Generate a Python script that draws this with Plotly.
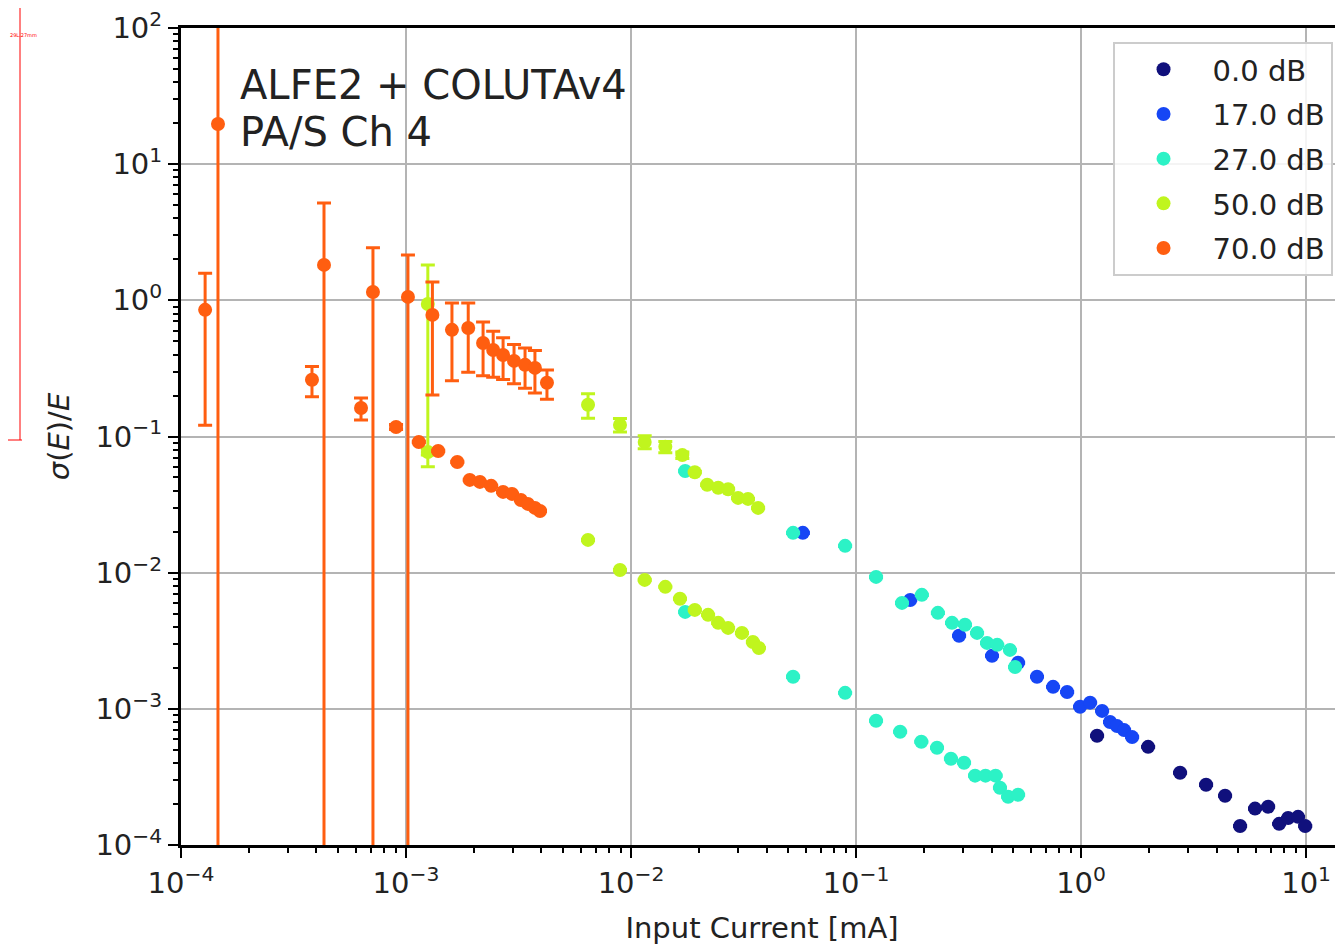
import plotly.graph_objects as go

# ---------------- data ----------------
gain_labels = ["0.0 dB", "17.0 dB", "27.0 dB", "50.0 dB", "70.0 dB"]
colors = ["#10107c", "#1646f5", "#2cf2c6", "#c0f51e", "#ff5e10"]

# 0 dB
x_0db = [1.178, 1.986, 2.754, 3.594, 4.365, 5.09, 5.93, 6.78, 7.59, 8.32, 9.21, 9.91]
y_0db = [6.34e-4, 5.26e-4, 3.39e-4, 2.77e-4, 2.30e-4, 1.38e-4, 1.85e-4, 1.91e-4,
         1.43e-4, 1.58e-4, 1.61e-4, 1.38e-4]
e_0db = [5e-6, 4e-6, 3e-6, 3e-6, 2e-6, 1e-6, 2e-6, 2e-6, 1e-6, 1e-6, 1e-6, 1e-6]

# 17 dB
x_17db = [0.058, 0.174, 0.287, 0.402, 0.525, 0.637, 0.751, 0.867, 0.99, 1.097,
          1.24, 1.345, 1.445, 1.553, 1.686]
y_17db = [0.0196, 0.0063, 0.00344, 0.00245, 0.00218, 0.00172, 0.00145, 0.00133,
          0.001035, 0.00111, 0.000966, 0.0008, 0.000747, 0.000698, 0.00062]
e_17db = [2e-4, 6e-5, 3e-5, 2e-5, 2e-5, 1e-5, 1e-5, 1e-5, 8e-6, 8e-6, 7e-6,
          6e-6, 5e-6, 5e-6, 5e-6]

# 27 dB (two measurement sets)
x_27db_a = [0.0174, 0.0525, 0.0894, 0.1227, 0.160, 0.196, 0.231, 0.267, 0.305,
            0.345, 0.382, 0.424, 0.483, 0.509]
y_27db_a = [0.0558, 0.0196, 0.01574, 0.00931, 0.0060, 0.00687, 0.00507, 0.00428,
            0.00414, 0.00361, 0.00305, 0.00295, 0.00271, 0.00203]
e_27db_a = [6e-4, 2e-4, 1.5e-4, 9e-5, 6e-5, 7e-5, 5e-5, 4e-5, 4e-5, 3e-5, 3e-5,
            3e-5, 2e-5, 2e-5]
x_27db_b = [0.0174, 0.0525, 0.0894, 0.1227, 0.157, 0.195, 0.229, 0.264, 0.302,
            0.338, 0.376, 0.417, 0.436, 0.474, 0.525]
y_27db_b = [0.00515, 0.00172, 0.00131, 0.000817, 0.000678, 0.000573, 0.000518,
            0.00043, 0.000402, 0.000323, 0.000323, 0.000323, 0.000263, 0.000226,
            0.000234]
e_27db_b = [5e-5, 2e-5, 1e-5, 8e-6, 6e-6, 5e-6, 5e-6, 4e-6, 4e-6, 3e-6, 3e-6,
            3e-6, 2e-6, 2e-6, 2e-6]

# 50 dB (two measurement sets)
x_50db_a = [0.00125, 0.00644, 0.00893, 0.0115, 0.0142, 0.0169, 0.0192, 0.0218,
            0.0244, 0.0270, 0.0299, 0.0331, 0.0367]
y_50db_a = [0.94, 0.171, 0.1217, 0.0912, 0.084, 0.073, 0.0547, 0.0442, 0.042,
            0.041, 0.0354, 0.0348, 0.0299]
e_50db_a = [0.88, 0.035, 0.014, 0.01, 0.008, 0.004, 0.0006, 0.0005, 0.0004,
            0.0004, 0.0004, 0.0003, 0.0003]
x_50db_b = [0.00125, 0.00644, 0.00893, 0.0115, 0.0142, 0.0165, 0.0192, 0.0220,
            0.0244, 0.0270, 0.0311, 0.0348, 0.0370]
y_50db_b = [0.077, 0.0174, 0.01047, 0.00885, 0.00787, 0.00643, 0.00533, 0.0049,
            0.00428, 0.00393, 0.00361, 0.0031, 0.0028]
e_50db_b = [0.004, 2e-4, 1e-4, 8e-5, 7e-5, 6e-5, 5e-5, 4e-5, 4e-5, 3e-5, 3e-5,
            3e-5, 2e-5]

# 70 dB (two measurement sets)
x_70db_a = [1.28e-4, 1.46e-4, 4.32e-4, 7.13e-4, 1.02e-3, 1.31e-3, 1.60e-3, 1.89e-3,
            2.20e-3, 2.44e-3, 2.70e-3, 3.02e-3, 3.38e-3, 3.74e-3, 4.23e-3]
y_70db_a = [0.851, 19.7, 1.82, 1.15, 1.06, 0.782, 0.607, 0.627, 0.486, 0.432,
            0.397, 0.359, 0.336, 0.319, 0.248]
e_70db_a = [0.73, 95.0, 3.37, 1.28, 1.09, 0.58, 0.35, 0.33, 0.207, 0.16, 0.135,
            0.115, 0.11, 0.11, 0.06]
x_70db_b = [3.82e-4, 6.31e-4, 9.03e-4, 1.14e-3, 1.39e-3, 1.69e-3, 1.92e-3, 2.13e-3,
            2.39e-3, 2.70e-3, 2.96e-3, 3.24e-3, 3.48e-3, 3.74e-3, 3.94e-3]
y_70db_b = [0.261, 0.162, 0.1175, 0.0912, 0.0783, 0.065, 0.048, 0.0464, 0.0434,
            0.0392, 0.0379, 0.0342, 0.032, 0.0299, 0.0284]
e_70db_b = [0.065, 0.03, 0.005, 0.001, 0.0008, 0.0007, 0.0005, 0.0005, 0.0004,
            0.0004, 0.0004, 0.0003, 0.0003, 0.0003, 0.0003]

decade_vals = [1e-4, 1e-3, 1e-2, 1e-1, 1e0, 1e1, 1e2]
decade_text = ["10<sup>\u22124</sup>", "10<sup>\u22123</sup>", "10<sup>\u22122</sup>",
               "10<sup>\u22121</sup>", "10<sup>0</sup>", "10<sup>1</sup>", "10<sup>2</sup>"]

series = [
    (x_0db, y_0db, e_0db),
    (x_17db, y_17db, e_17db),
    (x_27db_a + x_27db_b, y_27db_a + y_27db_b, e_27db_a + e_27db_b),
    (x_50db_a + x_50db_b, y_50db_a + y_50db_b, e_50db_a + e_50db_b),
    (x_70db_a + x_70db_b, y_70db_a + y_70db_b, e_70db_a + e_70db_b),
]

FONT = "DejaVu Sans"

fig = go.Figure()
for i, (xs, ys, es) in enumerate(series):
    fig.add_trace(go.Scatter(
        x=xs, y=ys, mode="markers", name=gain_labels[i],
        legendgroup=gain_labels[i],
        marker=dict(color=colors[i], size=14, line=dict(width=0)),
        error_y=dict(type="data", array=es, visible=True, color=colors[i],
                     thickness=3, width=7),
    ))

axis_common = dict(
    type="log", showline=True, linecolor="black", linewidth=3,
    ticks="outside", ticklen=10, tickwidth=2, tickcolor="black",
    showgrid=True, gridcolor="#b4b4b4", gridwidth=2,
    tickfont=dict(family=FONT, size=29, color="#222"),
    minor=dict(ticks="outside", ticklen=5, tickwidth=1.5, tickcolor="black",
               dtick="D1", showgrid=False),
    tickvals=decade_vals, ticktext=decade_text, zeroline=False,
    ticklabeloverflow="allow",
)

# the page body adds an 8px offset; figure is sized so the plot lands where the reference has it
fig.update_layout(
    width=1335, height=939,
    margin=dict(l=173, r=0, t=20, b=102),
    paper_bgcolor="white", plot_bgcolor="white",
    font=dict(family=FONT, size=29, color="#222"),
    xaxis=dict(axis_common, range=[-4, 1.164], mirror=True,
               title=dict(text="Input Current [mA]", font=dict(family=FONT, size=29),
                          standoff=19)),
    yaxis=dict(axis_common, range=[-4, 2], mirror=False,
               title=dict(text="<i>\u03c3</i>(<i>E</i>)/<i>E</i>",
                          font=dict(family=FONT, size=29), standoff=18)),
    showlegend=True,
    legend=dict(x=0.991, y=0.983, xanchor="right", yanchor="top",
                bgcolor="rgba(255,255,255,0.85)", bordercolor="#cccccc", borderwidth=2,
                font=dict(family=FONT, size=29, color="#222"),
                tracegroupgap=4, traceorder="grouped", itemwidth=88),
)

fig.add_annotation(text="ALFE2 + COLUTAv4", xref="paper", yref="paper",
                   x=0.049, y=(845 - 85) / 817, xanchor="left", yanchor="middle",
                   showarrow=False, font=dict(family=FONT, size=40, color="#222"))
fig.add_annotation(text="PA/S Ch 4", xref="paper", yref="paper",
                   x=0.049, y=(845 - 132) / 817, xanchor="left", yanchor="middle",
                   showarrow=False, font=dict(family=FONT, size=40, color="#222"))

# red measuring mark at the far left (screenshot artefact)
fig.add_shape(type="line", xref="paper", yref="paper",
              x0=(20 - 181) / 1162, x1=(20 - 181) / 1162, y0=845 / 817, y1=(845 - 440) / 817,
              line=dict(color="red", width=1))
fig.add_shape(type="line", xref="paper", yref="paper",
              x0=(8 - 181) / 1162, x1=(22 - 181) / 1162, y0=(845 - 440) / 817, y1=(845 - 440) / 817,
              line=dict(color="red", width=1))
fig.add_annotation(text="29L.27mm", xref="paper", yref="paper",
                   x=(8 - 181) / 1162, y=(845 - 35) / 817, xanchor="left", yanchor="middle",
                   showarrow=False, font=dict(family=FONT, size=5, color="red"))

fig.write_html("out.html")
